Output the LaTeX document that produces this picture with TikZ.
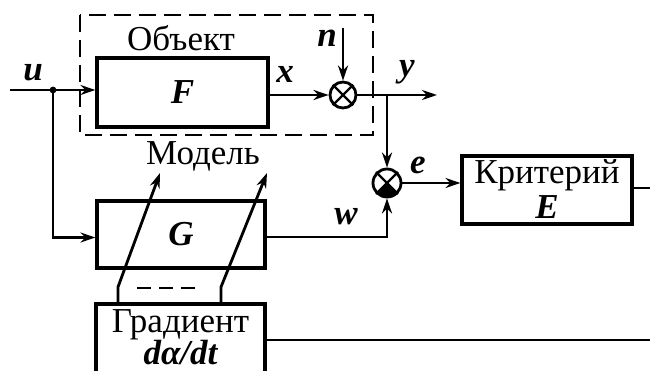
\documentclass[tikz,border=0pt]{standalone}
\usepackage{fontspec}
\setmainfont{Liberation Serif}
\usetikzlibrary{arrows.meta,calc}
\begin{document}
\begin{tikzpicture}[x=1pt,y=-1pt,
  blk/.style={draw,line width=3.2pt,inner sep=0pt,align=center},
  sum/.style={draw,circle,line width=2.8pt,minimum size=26pt,inner sep=0pt},
  ln/.style={line width=2.8pt},
  ar/.style={line width=2.8pt,-{Stealth[length=15pt,width=10pt]}},
  lbl/.style={font=\fontsize{35}{37}\selectfont},
  var/.style={font=\fontsize{35}{37}\selectfont\bfseries\itshape},
  dsh/.style={line width=2.6pt,dash pattern=on 17pt off 8pt}]
\useasboundingbox (0,0) rectangle (650,371);
\clip (0,0) rectangle (650,371);
% dashed object box
\draw[dsh] (80,15) rectangle (373,135);
% blocks
\node[blk,minimum width=171pt,minimum height=69pt] (F) at (182.5,92.5) {};
\node[var] at (F.center) {F};
\node[blk,minimum width=168pt,minimum height=67pt] (G) at (181,234.5) {};
\node[var] at (G.center) {G};
\node[blk,minimum width=170pt,minimum height=68pt] (K) at (547,190) {};
\node[lbl] at (547,175) {Критерий};
\node[var] at (547,207) {E};
\node[blk,minimum width=169pt,minimum height=110pt] (D) at (180.5,359) {};
\node[lbl] at (180.5,325) {Градиент};
\node[var] at (180.5,353) {dα/dt};
% summers
\node[sum] (S1) at (343,95) {};
\draw[line width=2.4pt] (S1.north east) -- (S1.south west) (S1.north west) -- (S1.south east);
\node[sum,minimum size=28pt] (S2) at (387,183) {};
\draw[line width=2.4pt] (S2.north east) -- (S2.south west) (S2.north west) -- (S2.south east);
\fill (S2.center) -- (S2.south east) arc[start angle=-45,end angle=-135,radius=14pt] -- cycle;
% labels
\node[lbl] at (181,38) {Объект};
\node[lbl] at (203,156) {Модель};
\node[var] at (33,73) {u};
\node[var] at (285,74) {x};
\node[var] at (327,38) {n};
\node[var] at (407,72) {y};
\node[var] at (418,165) {e};
\node[var] at (346,217) {w};
% coordinates
\coordinate (uin) at (10,90);
\coordinate (j) at (53,90);
\coordinate (nin) at (343,28);
\coordinate (yout) at (437,95);
\coordinate (b) at (387,95);
\coordinate (wc) at (387,237);
\coordinate (kout) at (650,188);
\coordinate (dout) at (650,340);
\coordinate (a1) at (118,287);
\coordinate (a1e) at (160,173);
\coordinate (a2) at (221,287);
\coordinate (a2e) at (267,173);
% connectors
\draw[ar] (uin) -- (uin -| F.west);
\fill (j) circle (3.4pt);
\draw[ar] (j) |- ($(G.west)+(0,3)$);
\draw[ar] (F.east |- S1) -- (S1.west);
\draw[ar] (nin) -- (S1.north);
\draw[ar] (S1.east) -- (yout);
\draw[ar] (b) -- (S2.north);
\draw[ar] (S2.east) -- (S2.east -| K.west);
\draw[ar] (G.east |- wc) -- (wc) -- (S2.south);
\draw[ln] (K.east |- kout) -- (kout);
\draw[ln] (D.east |- dout) -- (dout);
\draw[ar] (a1 |- D.north) -- (a1) -- (a1e);
\draw[ar] (a2 |- D.north) -- (a2) -- (a2e);
\draw[dsh,dash pattern=on 14pt off 8pt] (137,288) -- (197,288);
\end{tikzpicture}
\end{document}
